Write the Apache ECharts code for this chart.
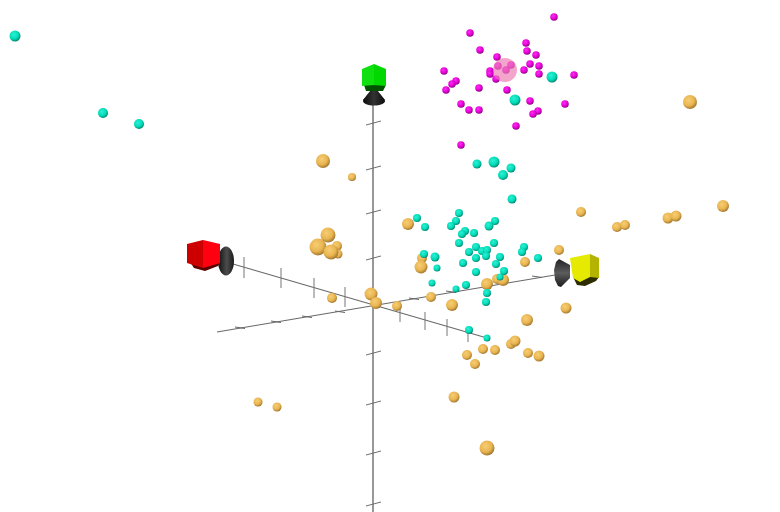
<!DOCTYPE html>
<html>
<head>
<meta charset="utf-8">
<style>html,body{margin:0;padding:0;background:#fff}#c{width:780px;height:512px}#c canvas{filter:blur(0.4px)}</style>
<script src="https://cdn.jsdelivr.net/npm/echarts@6/dist/echarts.min.js"></script>
</head>
<body>
<div id="c"></div>
<script>
// [x, y, radius]
const goldPoints = [[323,161,7],[352,177,4],[408,224,6],[328,235,7.5],[318,247,8.5],[337,246,5],[338,254,4.5],[331,252,7.5],
[332,298,5],[371,294,6.5],[376,303,6],[397,306,5],[422,258,5],[421,267,6.5],[431,297,5],[452,305,6],[487,284,6],[497,279,5],[503,280,6],
[525,262,5],[559,250,5],[566,308,5.5],[581,212,5],[617,227,5],[625,225,5],[668,218,5.5],[676,216,5.5],[723,206,6],[690,102,7],[781,71,6.5],
[527,320,6],[511,344,5],[515,341,5.5],[483,349,5],[495,350,5],[467,355,5],[475,364,5],[528,353,5],[539,356,5.5],[258,402,4.5],[277,407,4.5],[454,397,5.5],[487,448,7.5]];
const tealPoints = [[15,36,5.5],[103,113,5],[139,124,5],[552,77,5.5],[515,100,5.5],[477,164,4.5],[494,162,5.5],[511,168,4.5],[503,175,5],[512,199,4.5],
[417,218,4],[425,227,4],[459,213,4],[456,221,4],[451,226,4],[495,221,4],[489,226,4.5],[465,231,4],[462,234,4],[474,233,4],[459,243,4],[494,243,4],
[476,247,4],[469,252,4],[482,251,4],[487,250,4],[486,256,4],[476,258,4],[500,257,4],[463,263,4],[496,264,4],[476,272,4],[504,271,4],[500,277,3.5],
[524,247,4],[522,252,4],[538,258,4],[424,254,4],[435,257,4.5],[437,268,3.5],[432,283,3.5],[456,289,3.5],[466,285,4],[487,293,4],[486,302,4],[469,330,4],[487,338,3.5]];
const magentaPoints = [[554,17],[470,33],[526,43],[480,50],[527,51],[536,55],[497,57],[511,65],[498,66],[530,64],[539,66],[524,70],[506,70],[539,74],[444,71],
[490,71],[490,74],[496,79],[574,75],[456,81],[452,84],[446,90],[479,88],[507,90],[530,101],[565,104],[461,104],[469,110],[479,110],[538,111],[533,114],[516,126],[461,145]];
const pinkPoints = [[505,70,12]];

const axisLines = [[373,100,373,512],[233,264,487,338],[217,332,555,275]];
const verticalAxisTicks = [123,168,212,258,353,403,453,504];
const redAxisTicks = [[244,257,278],[281,268,288],[314,278,298],[345,287,307],[400,302,322],[425,312,330],[447,319,336],[468,330,342]];
const yellowAxisTicks = [[240,328],[276,322],[307,317],[340,312],[414,299],[451,292],[488,285],[537,277]];

const darkFaces = [
 {fill:'#5e0000',pts:[[190,262],[220,262],[218,266],[205,271],[194,268]]},
 {fill:'#005200',pts:[[364,85],[386,85],[383,91],[366,91]]},
 {fill:'#2c2c00',pts:[[573,277],[599,277],[596,281],[585,286],[577,285]]}
];
const cubeFaces = [
 {fill:'#cc0000',pts:[[187,244],[203,240],[203,268],[187,263]]},
 {fill:'#ff0010',pts:[[203,240],[220,244],[220,263],[203,268]]},
 {fill:'#10e010',pts:[[362,69],[374,64],[374,85],[362,86]]},
 {fill:'#00d800',pts:[[374,64],[386,69],[386,86],[374,85]]},
 {fill:'#e6ea00',pts:[[570,258],[590,254],[590,277],[580,282],[573,278]]},
 {fill:'#b4b400',pts:[[590,254],[599,258],[599,278],[590,277]]}
];
const yellowConePoly = [[570,265],[559,259],[556,262],[554,270],[555,280],[558,286],[561,287],[570,278]];
const blackConePoly = [[374,86],[363,100],[385,100]];
const coneEllipses = [[226,261,8,14.5],[374,101,11,4.5]];

function ball(hi,mid,lo){
  return new echarts.graphic.RadialGradient(0.4,0.36,0.68,[
    {offset:0,color:hi},{offset:0.6,color:mid},{offset:1,color:lo}]);
}
const segData=[];
axisLines.forEach((a,i)=>segData.push({value:a,w:i===0?1.6:1.1,c:i===0?'#7f7f7f':'#6a6a6a'}));
verticalAxisTicks.forEach(y=>segData.push({value:[366,y+2,381,y-2],w:1,c:'#6f6f6f'}));
redAxisTicks.forEach(t=>segData.push({value:[t[0],t[1],t[0],t[2]],w:1,c:'#777'}));
yellowAxisTicks.forEach(t=>segData.push({value:[t[0]-5,t[1]-1,t[0]+5,t[1]+0.5],w:1,c:'#666'}));

const vGrad=new echarts.graphic.LinearGradient(0,0,0,1,[{offset:0,color:'#222'},{offset:0.5,color:'#5c5c5c'},{offset:1,color:'#1c1c1c'}]);
const hGrad=new echarts.graphic.LinearGradient(0,0,1,0,[{offset:0,color:'#111'},{offset:0.55,color:'#4c4c4c'},{offset:1,color:'#1a1a1a'}]);
const hGradBlack=new echarts.graphic.LinearGradient(0,0,1,0,[{offset:0,color:'#0c0c0c'},{offset:0.5,color:'#333'},{offset:1,color:'#0c0c0c'}]);
const polyList=[
 {pts:yellowConePoly,fill:vGrad},
 {pts:blackConePoly,fill:hGradBlack},
 ...darkFaces, ...cubeFaces];

const chart=echarts.init(document.getElementById('c'),null,{renderer:'canvas'});
chart.setOption({
  backgroundColor:'#ffffff',animation:false,
  grid:{left:0,right:0,top:0,bottom:0},
  xAxis:{type:'value',min:0,max:780,show:false},
  yAxis:{type:'value',min:0,max:512,inverse:true,show:false},
  series:[
   {type:'custom',coordinateSystem:'cartesian2d',silent:true,z:1,data:segData,
    renderItem:(p,api)=>{
      const d=segData[p.dataIndex],a=api.coord([d.value[0],d.value[1]]),b=api.coord([d.value[2],d.value[3]]);
      return {type:'line',shape:{x1:a[0],y1:a[1],x2:b[0],y2:b[1]},style:{stroke:d.c,lineWidth:d.w}};
    },encode:{x:[0,2],y:[1,3]}},
   {type:'custom',coordinateSystem:'cartesian2d',silent:true,z:2,data:coneEllipses,
    renderItem:(p,api)=>{
      const e=coneEllipses[p.dataIndex],c=api.coord([e[0],e[1]]);
      return {type:'ellipse',shape:{cx:c[0],cy:c[1],rx:e[2],ry:e[3]},style:{fill:p.dataIndex?hGradBlack:hGrad}};
    },encode:{x:0,y:1}},
   {type:'custom',coordinateSystem:'cartesian2d',silent:true,z:3,data:polyList.map(d=>d.pts[0]),
    renderItem:(p,api)=>{
      const d=polyList[p.dataIndex];
      return {type:'polygon',shape:{points:d.pts.map(q=>api.coord(q))},style:{fill:d.fill}};
    },encode:{x:0,y:1}},
   {type:'scatter',z:4,data:goldPoints,symbolSize:v=>v[2]*2,
    itemStyle:{opacity:1,color:ball('#f6ce74','#e9b450','#97702a')}},
   {type:'scatter',z:5,data:tealPoints,symbolSize:v=>v[2]*2,
    itemStyle:{opacity:1,color:ball('#2ff0d4','#00dcb8','#007a66')}},
   {type:'scatter',z:6,data:magentaPoints,symbolSize:7.5,
    itemStyle:{opacity:1,color:ball('#ff2cf5','#e400d4','#80007a')}},
   {type:'scatter',z:7,data:pinkPoints,symbolSize:v=>v[2]*2,
    itemStyle:{color:'#ee7ab4',opacity:0.68}}
  ]
});
</script>
</body>
</html>
